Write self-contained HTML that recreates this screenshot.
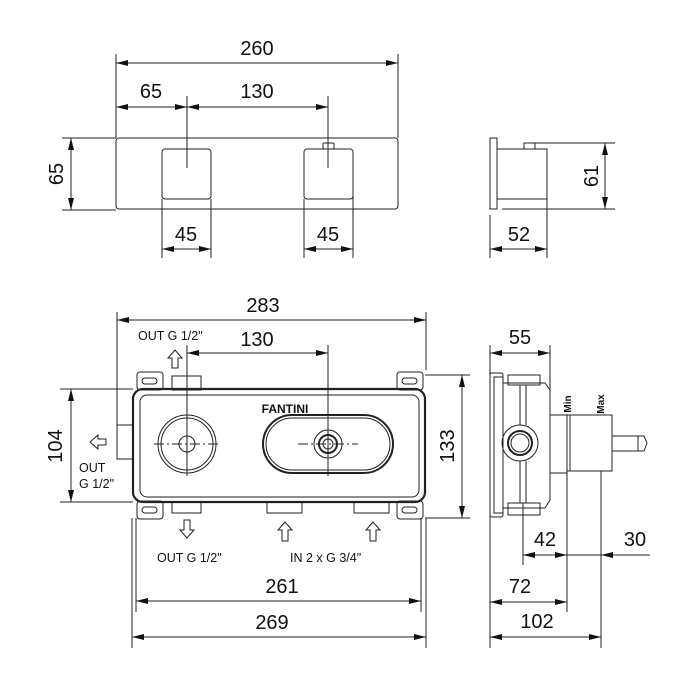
<!DOCTYPE html>
<html><head><meta charset="utf-8"><style>
html,body{margin:0;padding:0;background:#fff}
svg{display:block}
text{font-family:"Liberation Sans",Arial,sans-serif;fill:#111}
.d{font-size:20px}
.s{font-size:12.5px}
</style></head><body>
<svg width="700" height="700" viewBox="0 0 700 700" xmlns="http://www.w3.org/2000/svg">
<defs>
<marker id="a" viewBox="0 0 12 6" refX="12" refY="3" markerWidth="12" markerHeight="6" orient="auto-start-reverse" markerUnits="userSpaceOnUse"><path d="M0,0 L12,3 L0,6 Z" fill="#111"/></marker>
</defs>
<g stroke="#222" stroke-width="1" fill="none">
<!-- TOP FRONT VIEW -->
<rect x="116" y="138" width="282" height="71" rx="3"/>
<rect x="162" y="149" width="49" height="50" rx="3"/>
<rect x="304" y="149" width="49" height="50" rx="3"/>
<rect x="323" y="143" width="11" height="6" rx="1.5"/>
<!-- ext lines -->
<line x1="116" y1="54" x2="116" y2="138"/>
<line x1="398" y1="54" x2="398" y2="138"/>
<line x1="187" y1="96" x2="187" y2="168"/>
<line x1="328" y1="96" x2="328" y2="168"/>
<line x1="62" y1="138" x2="116" y2="138"/>
<line x1="62" y1="210" x2="116" y2="210"/>
<line x1="162" y1="199" x2="162" y2="258"/>
<line x1="211" y1="199" x2="211" y2="258"/>
<line x1="304" y1="199" x2="304" y2="258"/>
<line x1="353" y1="180" x2="353" y2="258"/>
<!-- dim lines -->
<line x1="116" y1="63" x2="398" y2="63" marker-start="url(#a)" marker-end="url(#a)"/>
<line x1="116" y1="107" x2="187" y2="107" marker-start="url(#a)" marker-end="url(#a)"/>
<line x1="187" y1="107" x2="328" y2="107" marker-start="url(#a)" marker-end="url(#a)"/>
<line x1="71" y1="138" x2="71" y2="210" marker-start="url(#a)" marker-end="url(#a)"/>
<line x1="162" y1="249" x2="211" y2="249" marker-start="url(#a)" marker-end="url(#a)"/>
<line x1="304" y1="249" x2="353" y2="249" marker-start="url(#a)" marker-end="url(#a)"/>

<!-- TOP SIDE VIEW -->
<rect x="490" y="138" width="7" height="71"/>
<rect x="497" y="149" width="50" height="50"/>
<rect x="524" y="143" width="11" height="6"/>
<line x1="535" y1="143" x2="615" y2="143"/>
<line x1="502" y1="209" x2="615" y2="209"/>
<line x1="605" y1="143" x2="605" y2="209" marker-start="url(#a)" marker-end="url(#a)"/>
<line x1="490" y1="215" x2="490" y2="258"/>
<line x1="547" y1="199" x2="547" y2="258"/>
<line x1="490" y1="249" x2="547" y2="249" marker-start="url(#a)" marker-end="url(#a)"/>

<!-- BOTTOM FRONT VIEW: dims -->
<line x1="117" y1="312" x2="117" y2="425"/>
<line x1="426" y1="312" x2="426" y2="370"/>
<line x1="117" y1="320" x2="426" y2="320" marker-start="url(#a)" marker-end="url(#a)"/>
<line x1="187" y1="345" x2="187" y2="476"/>
<line x1="328" y1="345" x2="328" y2="476"/>
<line x1="187" y1="353" x2="328" y2="353" marker-start="url(#a)" marker-end="url(#a)"/>
<line x1="136" y1="518" x2="136" y2="612"/>
<line x1="421" y1="518" x2="421" y2="612"/>
<line x1="136" y1="601" x2="421" y2="601" marker-start="url(#a)" marker-end="url(#a)"/>
<line x1="132" y1="518" x2="132" y2="648"/>
<line x1="426" y1="518" x2="426" y2="648"/>
<line x1="132" y1="637" x2="426" y2="637" marker-start="url(#a)" marker-end="url(#a)"/>
<line x1="60" y1="389" x2="133" y2="389"/>
<line x1="60" y1="502" x2="133" y2="502"/>
<line x1="71" y1="389" x2="71" y2="502" marker-start="url(#a)" marker-end="url(#a)"/>
<line x1="425" y1="375" x2="470" y2="375"/>
<line x1="425" y1="518" x2="470" y2="518"/>
<line x1="462" y1="375" x2="462" y2="518" marker-start="url(#a)" marker-end="url(#a)"/>

<!-- body -->
<rect x="137" y="372" width="26" height="18" rx="3"/>
<rect x="142" y="378" width="15" height="6" rx="3"/>
<rect x="397" y="372" width="26" height="18" rx="3"/>
<rect x="402" y="378" width="15" height="6" rx="3"/>
<rect x="137" y="501" width="26" height="18" rx="3"/>
<rect x="142" y="507" width="15" height="6" rx="3"/>
<rect x="397" y="501" width="26" height="18" rx="3"/>
<rect x="402" y="507" width="15" height="6" rx="3"/>
<rect x="172" y="376" width="29" height="14"/>
<rect x="172" y="502" width="29" height="11"/>
<rect x="267" y="502" width="35" height="11"/>
<rect x="354" y="502" width="35" height="11"/>
<rect x="117" y="425" width="16" height="34"/>
<rect x="133" y="389" width="292" height="113" rx="10" stroke-width="2.2"/>
<rect x="140" y="395" width="279" height="102" rx="7"/>
<circle cx="187" cy="444" r="29"/>
<circle cx="187" cy="444" r="26"/>
<circle cx="187" cy="444" r="8"/>
<line x1="154" y1="444" x2="220" y2="444" stroke-dasharray="10,3,2,3"/>
<line x1="187" y1="412" x2="187" y2="478" stroke-dasharray="10,3,2,3"/>
<rect x="263" y="415" width="130" height="58" rx="29" stroke-width="2"/>
<rect x="266" y="418" width="124" height="52" rx="26"/>
<circle cx="328" cy="444" r="14"/>
<circle cx="328" cy="444" r="9" stroke-width="2"/>
<circle cx="328" cy="444" r="5"/>
<line x1="298" y1="444" x2="358" y2="444" stroke-dasharray="10,3,2,3"/>

<!-- arrows (hollow) -->
<path d="M175,350 L168,358 L172,358 L172,368 L178,368 L178,358 L182,358 Z"/>
<path d="M90,442 L98,435 L98,439 L106,439 L106,445 L98,445 L98,449 Z"/>
<path d="M187,538 L180,530 L184,530 L184,520 L190,520 L190,530 L194,530 Z"/>
<path d="M285,522 L278,530 L282,530 L282,541 L288,541 L288,530 L292,530 Z"/>
<path d="M373,522 L366,530 L370,530 L370,541 L376,541 L376,530 L380,530 Z"/>

<!-- BOTTOM SIDE VIEW -->
<line x1="490" y1="345" x2="490" y2="648"/>
<line x1="550" y1="345" x2="550" y2="392"/>
<line x1="490" y1="353" x2="550" y2="353" marker-start="url(#a)" marker-end="url(#a)"/>
<rect x="490" y="373" width="13" height="144" rx="2"/>
<rect x="494" y="377" width="9" height="136"/>
<path d="M503,383 L545,383 L550,390 L550,500 L545,508 L503,508"/>
<rect x="508" y="375" width="32" height="10"/>
<rect x="508" y="503" width="32" height="12"/>
<circle cx="520" cy="443" r="18"/>
<circle cx="520" cy="443" r="12" stroke-width="2"/>
<circle cx="520" cy="443" r="9"/>
<line x1="520" y1="385" x2="520" y2="425"/>
<line x1="526" y1="385" x2="526" y2="425"/>
<line x1="520" y1="461" x2="520" y2="503"/>
<line x1="526" y1="461" x2="526" y2="503"/>
<line x1="523" y1="503" x2="523" y2="565"/>
<rect x="550" y="415" width="17" height="58"/>
<rect x="567" y="415" width="45" height="56"/>
<line x1="570" y1="415" x2="570" y2="471"/>
<rect x="612" y="436" width="26" height="15"/>
<path d="M638,436 L644,436 L647,443 L644,451 L638,451"/>
<line x1="567" y1="471" x2="567" y2="612"/>
<line x1="601" y1="471" x2="601" y2="648"/>
<line x1="523" y1="555" x2="567" y2="555" marker-start="url(#a)" marker-end="url(#a)"/>
<line x1="567" y1="555" x2="601" y2="555"/>
<line x1="650" y1="555" x2="601" y2="555" marker-end="url(#a)"/>
<line x1="490" y1="602" x2="567" y2="602" marker-start="url(#a)" marker-end="url(#a)"/>
<line x1="490" y1="637" x2="601" y2="637" marker-start="url(#a)" marker-end="url(#a)"/>
</g>

<!-- text -->
<text class="d" x="257" y="55" text-anchor="middle">260</text>
<text class="d" x="151" y="98" text-anchor="middle">65</text>
<text class="d" x="257" y="98" text-anchor="middle">130</text>
<text class="d" x="186" y="241" text-anchor="middle">45</text>
<text class="d" x="328" y="241" text-anchor="middle">45</text>
<text class="d" text-anchor="middle" transform="translate(63,174) rotate(-90)">65</text>
<text class="d" text-anchor="middle" transform="translate(598,176) rotate(-90)">61</text>
<text class="d" x="519" y="241" text-anchor="middle">52</text>

<text class="d" x="263" y="312" text-anchor="middle">283</text>
<text class="d" x="257" y="346" text-anchor="middle">130</text>
<text class="s" x="138" y="340">OUT G 1/2"</text>
<text x="285" y="413" text-anchor="middle" style="font-size:12px;font-weight:bold">FANTINI</text>
<text class="d" text-anchor="middle" transform="translate(62,446) rotate(-90)">104</text>
<text class="s" x="79" y="472">OUT</text>
<text class="s" x="79" y="488">G 1/2"</text>
<text class="d" text-anchor="middle" transform="translate(454,446) rotate(-90)">133</text>
<text class="s" x="157" y="562">OUT G 1/2"</text>
<text class="s" x="290" y="562">IN 2 x G 3/4"</text>
<text class="d" x="282" y="593" text-anchor="middle">261</text>
<text class="d" x="272" y="629" text-anchor="middle">269</text>

<text class="d" x="520" y="344" text-anchor="middle">55</text>
<text text-anchor="middle" transform="translate(571,404) rotate(-90)" style="font-size:10px;font-weight:bold">Min</text>
<text text-anchor="middle" transform="translate(604,404) rotate(-90)" style="font-size:10px;font-weight:bold">Max</text>
<text class="d" x="545" y="546" text-anchor="middle">42</text>
<text class="d" x="635" y="546" text-anchor="middle">30</text>
<text class="d" x="520" y="593" text-anchor="middle">72</text>
<text class="d" x="537" y="628" text-anchor="middle">102</text>
</svg>
</body></html>
